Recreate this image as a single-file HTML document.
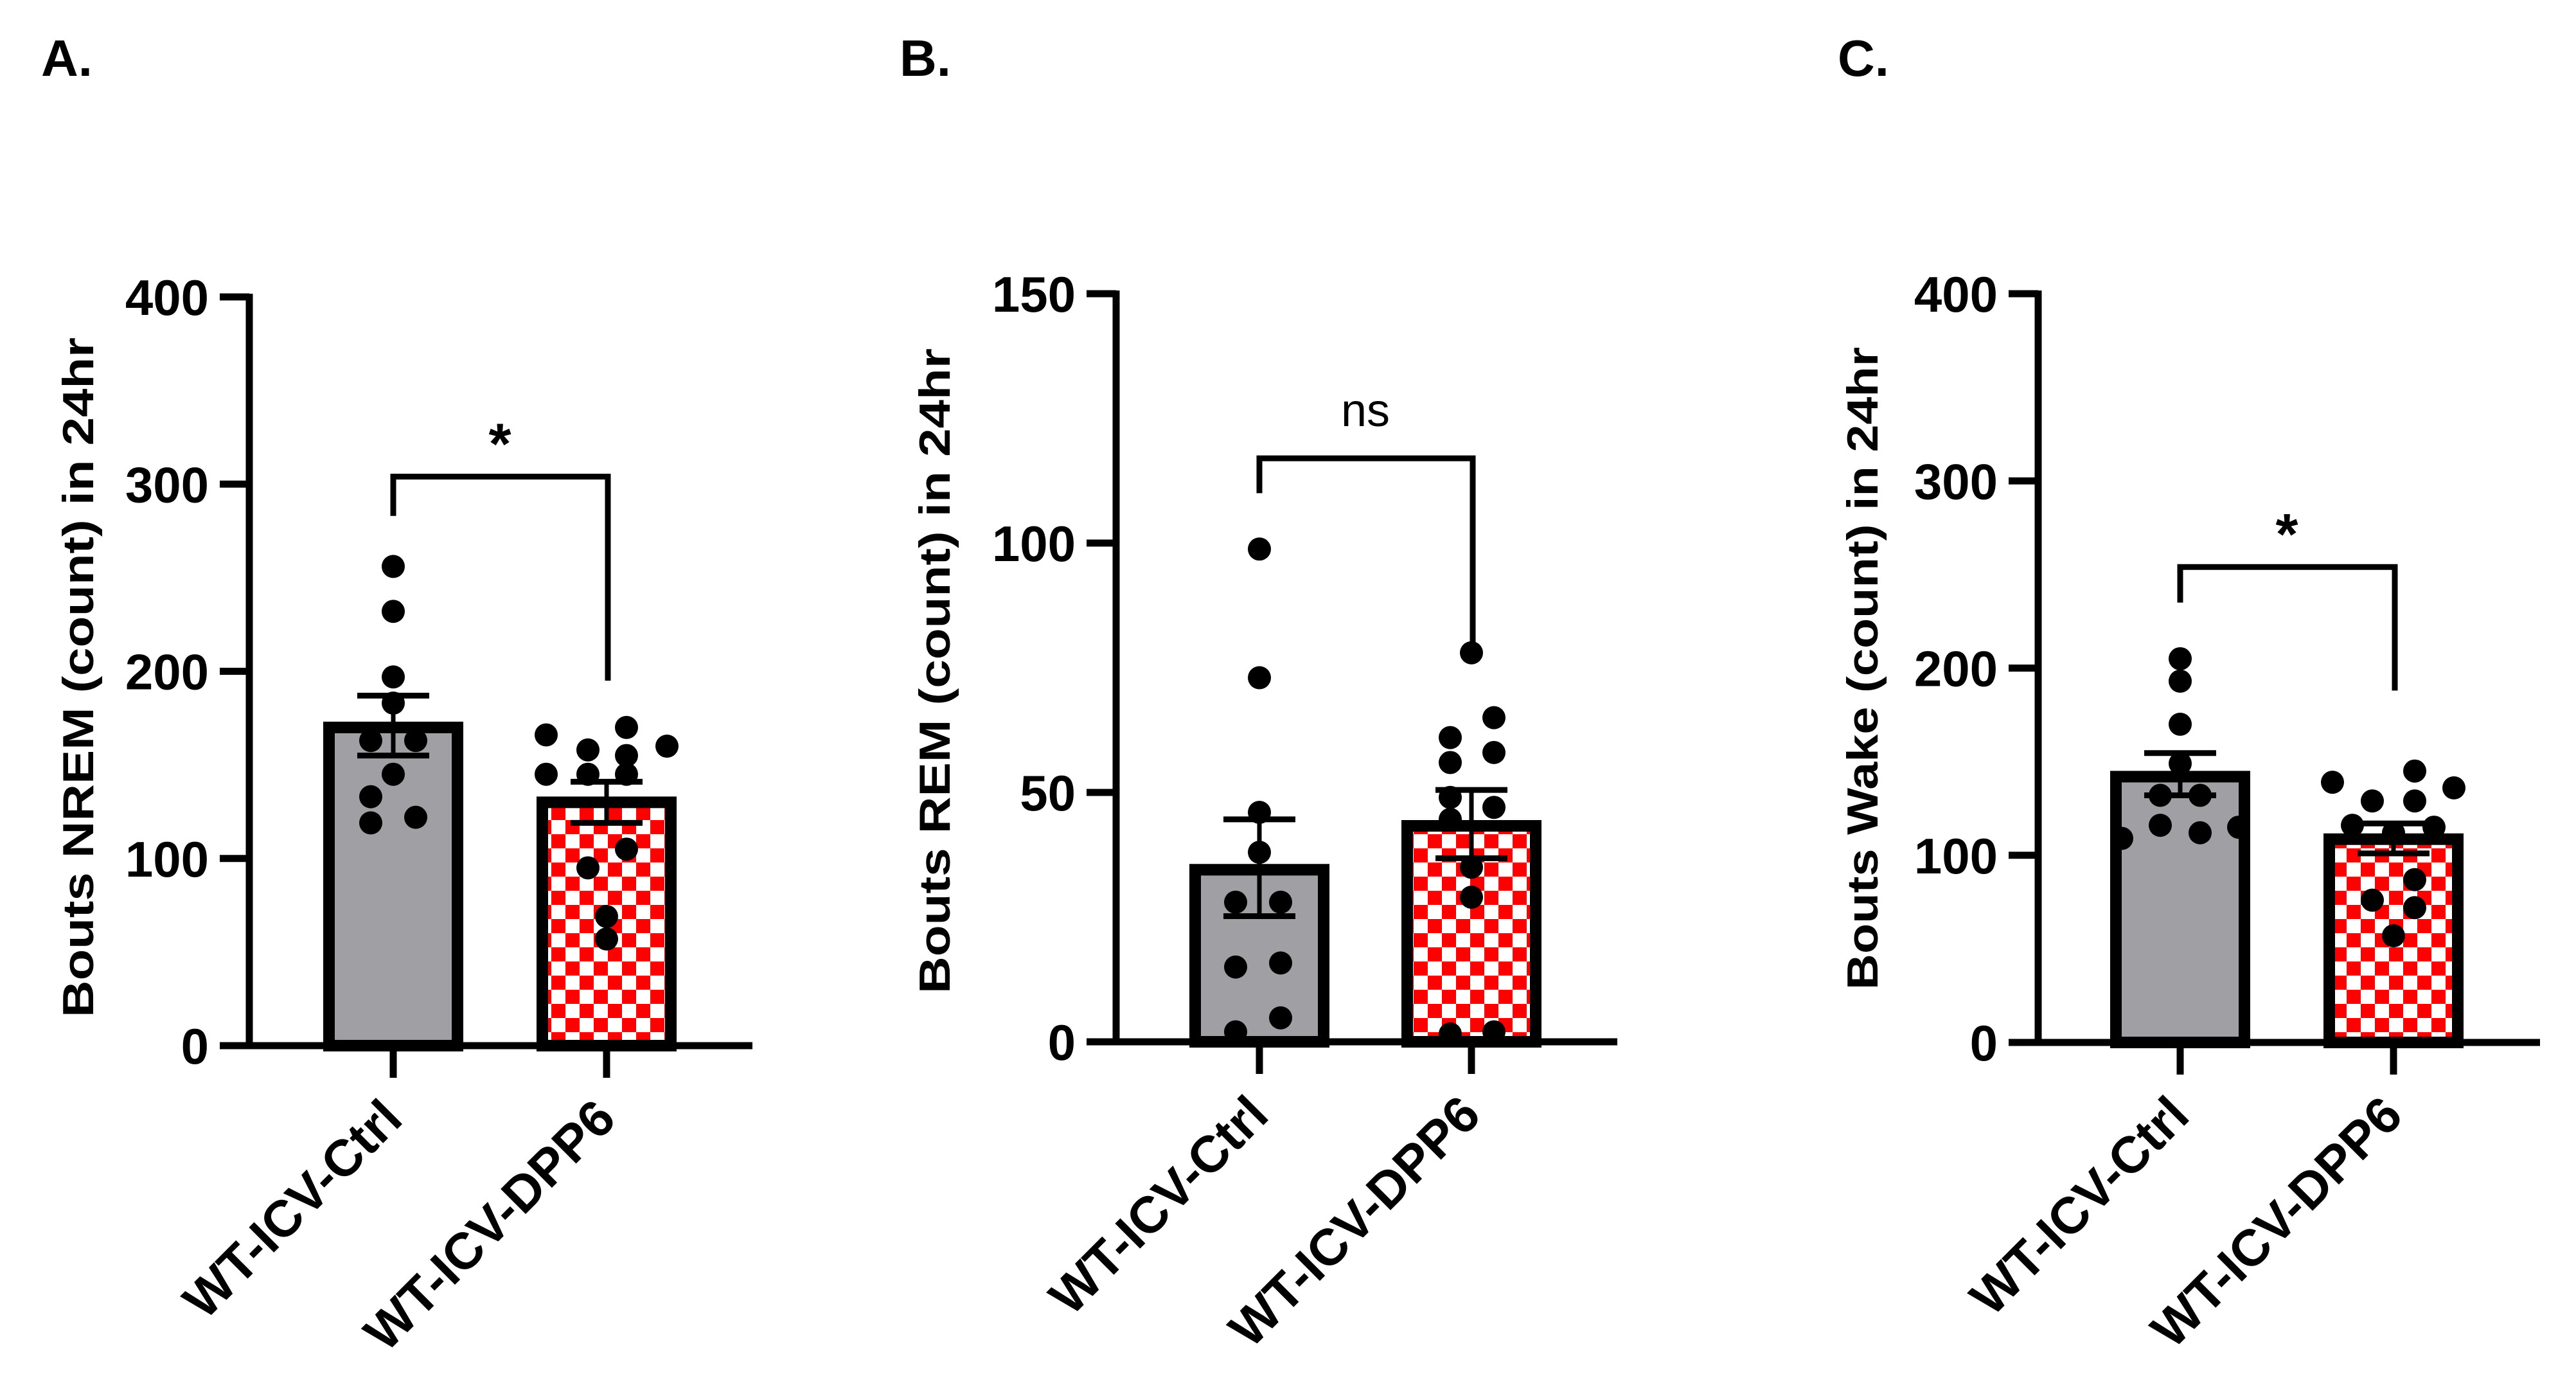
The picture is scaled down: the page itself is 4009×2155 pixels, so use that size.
<!DOCTYPE html>
<html><head><meta charset="utf-8"><style>
html,body{margin:0;padding:0;background:#fff;}
svg{display:block;}
text{font-family:"Liberation Sans",Arial,sans-serif;fill:#000;}
</style></head>
<body>
<svg id="fig" width="4009" height="2155" viewBox="0 0 4009 2155" xmlns="http://www.w3.org/2000/svg">
<defs>
<pattern id="checkA" patternUnits="userSpaceOnUse" width="44" height="44" x="0" y="0">
<rect width="44" height="44" fill="#fff"/><rect width="22" height="22" fill="#f00"/><rect x="22" y="22" width="22" height="22" fill="#f00"/>
</pattern>
</defs>
<g id="root"></g>
</svg>
<script>
// ---- Panel A data ----
const catsA = ["WT-ICV-Ctrl", "WT-ICV-DPP6"];
const ticksA = [0, 100, 200, 300, 400];
const meansA = [170, 130];
const semHiA = [187, 141];
const semLoA = [155, 119];
const ctrlA = [256, 232, 197, 183, 163, 163, 145, 133, 119, 122];
const ctrlOffA = [0, 0, 0, 0, -35, 35, 0, -35, -35, 35];
const dppA = [166, 158, 170, 160, 145, 145, 155, 145, 105, 95, 69, 57];
const dppOffA = [-94, -29, 31, 94, -94, -29, 31, 31, 31, -29, 0, 0];
const sigA = "*";
const bracketA = [304, 283, 195];
// ---- Panel B data ----
const catsB = ["WT-ICV-Ctrl", "WT-ICV-DPP6"];
const ticksB = [0, 50, 100, 150];
const meansB = [34.5, 43.3];
const semHiB = [44.6, 50.5];
const semLoB = [25.2, 36.8];
const ctrlB = [98.8, 73, 46, 38, 28, 28, 15, 15.8, 4.8, 2];
const ctrlOffB = [0, 0, 0, 0, -37, 33, -37, 33, 33, -37];
const dppB = [78, 65, 61, 58, 56, 49, 47, 44.6, 35, 29, 1.6, 2];
const dppOffB = [0, 35, -33, 35, -33, -33, 35, -33, 0, 0, -33, 35];
const sigB = "ns";
const bracketB = [117, 110, 80];
// ---- Panel C data ----
const catsC = ["WT-ICV-Ctrl", "WT-ICV-DPP6"];
const ticksC = [0, 100, 200, 300, 400];
const meansC = [142, 108.6];
const semHiC = [154.6, 117];
const semLoC = [132, 101];
const ctrlC = [205, 193, 170, 149, 132, 132, 116, 112, 109, 115];
const ctrlOffC = [0, 0, 0, 0, -31, 31, -31, 31, -91, 91];
const dppC = [139, 145, 136, 129, 129, 116, 115, 112, 87, 76, 72, 57];
const dppOffC = [-95, 33, 94, -33, 33, -64, 63, 0, 33, -33, 33, 0];
const sigC = "*";
const bracketC = [254, 235, 188];

const NS = "http://www.w3.org/2000/svg";
const root = document.getElementById('root');
function mk(tag, attrs, parent){
  const e = document.createElementNS(NS, tag);
  for (const k in attrs) e.setAttribute(k, attrs[k]);
  (parent||root).appendChild(e);
  return e;
}

function panel(cfg){
  const g = mk('g', {});
  
  
  const yMax = cfg.ticks[cfg.ticks.length-1];
  const y = v => cfg.y0 - (v / yMax) * (cfg.y0 - cfg.yTop);
  const L = mk('text', {x: cfg.letterX, y: 118, 'font-size': 80, 'font-weight': 'bold'}, g);
  L.textContent = cfg.letter;
  
  
  const tt = mk('text', {transform: `translate(${cfg.titleX},${cfg.titleY}) rotate(-90)`, 'text-anchor': 'middle', 'font-size': 68, 'font-weight': 'bold', textLength: cfg.titleLen, lengthAdjust: 'spacingAndGlyphs'}, g);
  tt.textContent = cfg.title;
  
  
  const bw = 200, sw = 18;
  cfg.cats.forEach((c, i) => {
    const cx = cfg.cx[i];
    const r = mk('rect', {x: cx - bw/2, y: y(cfg.means[i]), width: bw, height: y(0) - y(cfg.means[i]), fill: i === 0 ? '#a0a0a4' : 'url(#checkA)', stroke: '#000', 'stroke-width': sw}, g);
    
    
  });
  const sets = [[cfg.ctrl, cfg.ctrlOff], [cfg.dpp, cfg.dppOff]];
  sets.forEach((s, i) => {
    s[0].forEach((v, j) => {
      const d = mk('circle', {cx: cfg.cx[i] + s[1][j], cy: y(v), r: 18, fill: '#000'}, g);
      
      
    });
  });
  cfg.cats.forEach((c, i) => {
    const cx = cfg.cx[i];
    const eg = mk('g', {stroke: '#000', fill: 'none'}, g);
    
    
    mk('line', {x1: cx, x2: cx, y1: y(cfg.hi[i]), y2: y(cfg.lo[i]), 'stroke-width': 7}, eg);
    mk('line', {x1: cx-56, x2: cx+56, y1: y(cfg.hi[i]), y2: y(cfg.hi[i]), 'stroke-width': 9}, eg);
    mk('line', {x1: cx-56, x2: cx+56, y1: y(cfg.lo[i]), y2: y(cfg.lo[i]), 'stroke-width': 9}, eg);
  });
  const ax = mk('g', {stroke: '#000', 'stroke-width': 11, fill: 'none'}, g);
  
  
  mk('line', {x1: cfg.ax, x2: cfg.ax, y1: y(yMax) - 5, y2: y(0) + 5}, ax);
  mk('line', {x1: cfg.ax - 46, x2: cfg.xEnd, y1: y(0), y2: y(0)}, ax);
  cfg.ticks.forEach(t => {
    mk('line', {x1: cfg.ax - 46, x2: cfg.ax, y1: y(t), y2: y(t)}, ax);
    const tl = mk('text', {x: cfg.ax - 63, y: y(t) + 28, 'text-anchor': 'end', 'font-size': 78, 'font-weight': 'bold'}, g);
    tl.textContent = t;
    
    
  });
  cfg.cats.forEach((c, i) => {
    mk('line', {x1: cfg.cx[i], x2: cfg.cx[i], y1: y(0), y2: y(0) + 50}, ax);
    const xl = mk('text', {transform: `translate(${cfg.cx[i] + 18},${y(0) + 118}) rotate(-45)`, 'text-anchor': 'end', 'font-size': 80, 'font-weight': 'bold'}, g);
    xl.textContent = c;
    
    
  });
  const b = cfg.bracket;
  const bp = mk('path', {d: `M${cfg.cx[0]},${y(b[1])} V${y(b[0])} H${cfg.cx[1]+2} V${y(b[2])}`, stroke: '#000', 'stroke-width': 9, fill: 'none'}, g);
  
  
  const st = mk('text', {x: (cfg.cx[0] + cfg.cx[1]) / 2, y: y(b[0]) - (cfg.sig === 'ns' ? 50 : 20), 'text-anchor': 'middle', 'font-size': cfg.sig === 'ns' ? 72 : 90, 'font-weight': cfg.sig === 'ns' ? 'normal' : 'bold'}, g);
  st.textContent = cfg.sig;
  
  
}

panel({name: 'panel-a-nrem', letter: 'A.', letterX: 64, title: 'Bouts NREM (count) in 24hr', titleX: 145, titleY: 1054, titleLen: 1058,
  ax: 388, xEnd: 1171, y0: 1627, yTop: 462, cx: [612, 944], cats: catsA, ticks: ticksA, means: meansA, hi: semHiA, lo: semLoA,
  ctrl: ctrlA, ctrlOff: ctrlOffA, dpp: dppA, dppOff: dppOffA, sig: sigA, bracket: bracketA});
panel({name: 'panel-b-rem', letter: 'B.', letterX: 1400, title: 'Bouts REM (count) in 24hr', titleX: 1478, titleY: 1044, titleLen: 1004,
  ax: 1737, xEnd: 2517, y0: 1621, yTop: 457, cx: [1960, 2290], cats: catsB, ticks: ticksB, means: meansB, hi: semHiB, lo: semLoB,
  ctrl: ctrlB, ctrlOff: ctrlOffB, dpp: dppB, dppOff: dppOffB, sig: sigB, bracket: bracketB});
panel({name: 'panel-c-wake', letter: 'C.', letterX: 2860, title: 'Bouts Wake (count) in 24hr', titleX: 2922, titleY: 1040, titleLen: 1000,
  ax: 3172, xEnd: 3953, y0: 1622, yTop: 457, cx: [3393, 3725], cats: catsC, ticks: ticksC, means: meansC, hi: semHiC, lo: semLoC,
  ctrl: ctrlC, ctrlOff: ctrlOffC, dpp: dppC, dppOff: dppOffC, sig: sigC, bracket: bracketC});
</script>
</body></html>
